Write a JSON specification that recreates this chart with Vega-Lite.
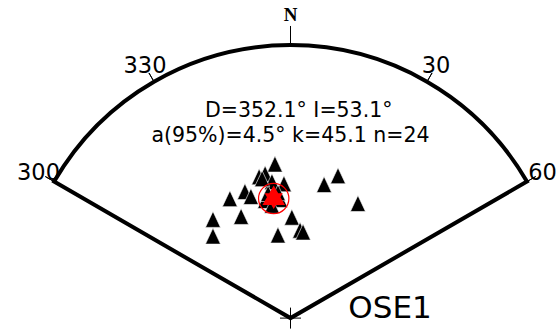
{
  "$schema": "https://vega.github.io/schema/vega-lite/v6.json",
  "width": 559,
  "height": 331,
  "autosize": {"type": "fit", "contains": "padding"},
  "padding": 0,
  "background": "white",
  "view": {"stroke": null},
  "config": {"font": "DejaVu Sans"},
  "datasets": {
    "sector": [{"az_from": -60, "az_to": 60}],
    "azimuths": [
      {"az": 300, "label": "300"},
      {"az": 330, "label": "330"},
      {"az": 30, "label": "30"},
      {"az": 60, "label": "60"}
    ],
    "north": [{"az": 0, "label": "N"}],
    "sites": [
      {"x": -0.057, "y": 0.571},
      {"x": -0.115, "y": 0.524},
      {"x": -0.093, "y": 0.535},
      {"x": -0.068, "y": 0.506},
      {"x": -0.024, "y": 0.498},
      {"x": -0.222, "y": 0.443},
      {"x": -0.167, "y": 0.469},
      {"x": -0.145, "y": 0.451},
      {"x": -0.181, "y": 0.377},
      {"x": -0.284, "y": 0.366},
      {"x": -0.284, "y": 0.304},
      {"x": -0.046, "y": 0.308},
      {"x": 0.005, "y": 0.374},
      {"x": 0.035, "y": 0.326},
      {"x": 0.046, "y": 0.319},
      {"x": 0.123, "y": 0.495},
      {"x": 0.174, "y": 0.528},
      {"x": 0.247, "y": 0.425},
      {"x": -0.093, "y": 0.436},
      {"x": -0.038, "y": 0.44},
      {"x": -0.068, "y": 0.418},
      {"x": -0.082, "y": 0.462},
      {"x": -0.046, "y": 0.465},
      {"x": -0.104, "y": 0.517}
    ],
    "mean": [{"x": -0.0615, "y": 0.4433, "dec": 352.1, "inc": 53.1, "a95": 4.5, "k": 45.1, "n": 24}]
  },
  "layer": [
    {
      "data": {"name": "sector"},
      "mark": {"type": "arc", "fill": "white", "stroke": "black", "strokeWidth": 4, "strokeJoin": "miter"},
      "encoding": {
        "x": {"datum": 0, "type": "quantitative", "scale": {"domain": [-1.0641, 0.9835], "nice": false, "zero": false}, "axis": null},
        "y": {"datum": 0, "type": "quantitative", "scale": {"domain": [-0.033, 1.1795], "nice": false, "zero": false}, "axis": null},
        "theta": {"field": "az_from", "type": "quantitative", "stack": null, "scale": {"domain": [0, 360], "range": [0, 6.283185307]}},
        "theta2": {"field": "az_to"},
        "radius": {"datum": 1, "type": "quantitative", "scale": {"type": "linear", "domain": [0, 1], "range": [0, 273], "zero": true}}
      }
    },
    {
      "data": {"name": "azimuths"},
      "mark": {"type": "arc", "stroke": "black", "strokeWidth": 1, "fill": null},
      "encoding": {
        "x": {"datum": 0, "type": "quantitative", "scale": {"domain": [-1.0641, 0.9835], "nice": false, "zero": false}, "axis": null},
        "y": {"datum": 0, "type": "quantitative", "scale": {"domain": [-0.033, 1.1795], "nice": false, "zero": false}, "axis": null},
        "theta": {"field": "az", "type": "quantitative", "stack": null, "scale": {"domain": [0, 360], "range": [0, 6.283185307]}},
        "theta2": {"field": "az"},
        "radius": {"datum": 1.037, "type": "quantitative", "scale": {"type": "linear", "domain": [0, 1], "range": [0, 273], "zero": true}},
        "radius2": {"datum": 1}
      }
    },
    {
      "data": {"name": "north"},
      "mark": {"type": "arc", "stroke": "black", "strokeWidth": 1, "fill": null},
      "encoding": {
        "x": {"datum": 0, "type": "quantitative", "scale": {"domain": [-1.0641, 0.9835], "nice": false, "zero": false}, "axis": null},
        "y": {"datum": 0, "type": "quantitative", "scale": {"domain": [-0.033, 1.1795], "nice": false, "zero": false}, "axis": null},
        "theta": {"field": "az", "type": "quantitative", "stack": null, "scale": {"domain": [0, 360], "range": [0, 6.283185307]}},
        "theta2": {"field": "az"},
        "radius": {"datum": 1.07, "type": "quantitative", "scale": {"type": "linear", "domain": [0, 1], "range": [0, 273], "zero": true}},
        "radius2": {"datum": 1}
      }
    },
    {
      "data": {"name": "azimuths"},
      "mark": {"type": "text", "fontSize": 22.5, "align": "center", "baseline": "middle", "color": "black"},
      "encoding": {
        "x": {"datum": 0, "type": "quantitative", "scale": {"domain": [-1.0641, 0.9835], "nice": false, "zero": false}, "axis": null},
        "y": {"datum": 0, "type": "quantitative", "scale": {"domain": [-0.033, 1.1795], "nice": false, "zero": false}, "axis": null},
        "theta": {"field": "az", "type": "quantitative", "stack": null, "scale": {"domain": [0, 360], "range": [0, 6.283185307]}},
        "radius": {"datum": 1.066, "type": "quantitative", "scale": {"type": "linear", "domain": [0, 1], "range": [0, 273], "zero": true}},
        "text": {"field": "label"}
      }
    },
    {
      "data": {"name": "north"},
      "mark": {"type": "text", "font": "Liberation Serif", "fontWeight": "bold", "fontSize": 19, "align": "center", "baseline": "middle", "color": "black"},
      "encoding": {
        "x": {"datum": 0, "type": "quantitative", "scale": {"domain": [-1.0641, 0.9835], "nice": false, "zero": false}, "axis": null},
        "y": {"datum": 0, "type": "quantitative", "scale": {"domain": [-0.033, 1.1795], "nice": false, "zero": false}, "axis": null},
        "theta": {"field": "az", "type": "quantitative", "stack": null, "scale": {"domain": [0, 360], "range": [0, 6.283185307]}},
        "radius": {"datum": 1.11, "type": "quantitative", "scale": {"type": "linear", "domain": [0, 1], "range": [0, 273], "zero": true}},
        "text": {"field": "label"}
      }
    },
    {
      "data": {"name": "north"},
      "mark": {"type": "point", "shape": "M-1,0H1M0,-1V1", "size": 441, "filled": false, "stroke": "black", "strokeWidth": 1, "opacity": 1},
      "encoding": {
        "x": {"datum": 0, "type": "quantitative", "scale": {"domain": [-1.0641, 0.9835], "nice": false, "zero": false}, "axis": null},
        "y": {"datum": 0, "type": "quantitative", "scale": {"domain": [-0.033, 1.1795], "nice": false, "zero": false}, "axis": null}
      }
    },
    {
      "data": {"name": "sites"},
      "mark": {"type": "point", "shape": "M0,-1L-0.94,1L0.94,1Z", "size": 256, "filled": true, "color": "black", "stroke": "white", "strokeWidth": 0.6, "opacity": 1},
      "encoding": {
        "x": {"field": "x", "type": "quantitative", "scale": {"domain": [-1.0641, 0.9835], "nice": false, "zero": false}, "axis": null},
        "y": {"field": "y", "type": "quantitative", "scale": {"domain": [-0.033, 1.1795], "nice": false, "zero": false}, "axis": null}
      }
    },
    {
      "data": {"name": "mean"},
      "mark": {"type": "point", "shape": "M0,-1L0.866,0.5L-0.866,0.5ZM0,0.8L-0.69,-0.4L0.69,-0.4Z", "size": 680, "filled": true, "color": "#ff0000", "opacity": 1},
      "encoding": {
        "x": {"field": "x", "type": "quantitative", "scale": {"domain": [-1.0641, 0.9835], "nice": false, "zero": false}, "axis": null},
        "y": {"field": "y", "type": "quantitative", "scale": {"domain": [-0.033, 1.1795], "nice": false, "zero": false}, "axis": null}
      }
    },
    {
      "data": {"name": "mean"},
      "mark": {"type": "point", "shape": "circle", "size": 920, "filled": false, "stroke": "#ff0000", "strokeWidth": 1.2, "opacity": 1},
      "encoding": {
        "x": {"field": "x", "type": "quantitative", "scale": {"domain": [-1.0641, 0.9835], "nice": false, "zero": false}, "axis": null},
        "y": {"field": "y", "type": "quantitative", "scale": {"domain": [-0.033, 1.1795], "nice": false, "zero": false}, "axis": null}
      }
    },
    {
      "data": {"values": [{"label": "D=352.1° I=53.1°"}]},
      "mark": {"type": "text", "fontSize": 20.5, "align": "center", "baseline": "alphabetic", "color": "black"},
      "encoding": {
        "x": {"datum": 0.03, "type": "quantitative", "scale": {"domain": [-1.0641, 0.9835], "nice": false, "zero": false}, "axis": null},
        "y": {"datum": 0.745, "type": "quantitative", "scale": {"domain": [-0.033, 1.1795], "nice": false, "zero": false}, "axis": null},
        "text": {"field": "label"}
      }
    },
    {
      "data": {"values": [{"label": "a(95%)=4.5° k=45.1 n=24"}]},
      "mark": {"type": "text", "fontSize": 20.5, "align": "center", "baseline": "alphabetic", "color": "black"},
      "encoding": {
        "x": {"datum": 0.0, "type": "quantitative", "scale": {"domain": [-1.0641, 0.9835], "nice": false, "zero": false}, "axis": null},
        "y": {"datum": 0.652, "type": "quantitative", "scale": {"domain": [-0.033, 1.1795], "nice": false, "zero": false}, "axis": null},
        "text": {"field": "label"}
      }
    },
    {
      "data": {"values": [{"label": "OSE1"}]},
      "mark": {"type": "text", "fontSize": 31, "align": "center", "baseline": "alphabetic", "color": "black"},
      "encoding": {
        "x": {"datum": 0.3645, "type": "quantitative", "scale": {"domain": [-1.0641, 0.9835], "nice": false, "zero": false}, "axis": null},
        "y": {"datum": 0.001, "type": "quantitative", "scale": {"domain": [-0.033, 1.1795], "nice": false, "zero": false}, "axis": null},
        "text": {"field": "label"}
      }
    }
  ]
}
